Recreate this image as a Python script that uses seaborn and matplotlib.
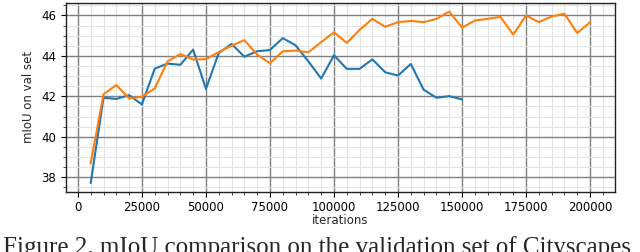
import numpy as np
import pandas as pd
import matplotlib.pyplot as plt
import seaborn as sns
from matplotlib.ticker import MultipleLocator

# validation mIoU, one point every 5000 iterations
iters_blue = list(range(5000, 150001, 5000))
miou_blue = [37.71, 41.93, 41.87, 42.06, 41.60, 43.37, 43.62, 43.56, 44.31, 42.37,
             44.14, 44.59, 43.96, 44.23, 44.29, 44.88, 44.52, 43.73, 42.88, 44.03,
             43.36, 43.36, 43.83, 43.19, 43.03, 43.60, 42.33, 41.93, 42.01, 41.85]

iters_orange = list(range(5000, 200001, 5000))
miou_orange = [38.69, 42.10, 42.56, 41.90, 41.98, 42.39, 43.73, 44.09, 43.82, 43.84,
               44.19, 44.50, 44.78, 44.06, 43.64, 44.23, 44.26, 44.18, 44.68, 45.17,
               44.64, 45.29, 45.83, 45.44, 45.67, 45.73, 45.67, 45.83, 46.19, 45.40,
               45.75, 45.83, 45.93, 45.05, 46.00, 45.67, 45.95, 46.08, 45.13, 45.67]

caption = "Figure 2. mIoU comparison on the validation set of Cityscapes"

sns.set_style("white")
fig = plt.figure(figsize=(6.4, 2.52), dpi=100)
ax = fig.add_axes([0.1027, 0.2393, 0.8583, 0.7487])

sns.lineplot(x=iters_blue, y=miou_blue, color="#1f77b4", linewidth=1.5, ax=ax)
sns.lineplot(x=iters_orange, y=miou_orange, color="#ff7f0e", linewidth=1.5, ax=ax)

ax.xaxis.set_major_locator(MultipleLocator(25000))
ax.xaxis.set_minor_locator(MultipleLocator(5000))
ax.yaxis.set_major_locator(MultipleLocator(2))
ax.yaxis.set_minor_locator(MultipleLocator(0.5))
ax.grid(which="major", color="#7f7f7f", linewidth=1.0)
ax.grid(which="minor", color="#e4e4e4", linewidth=0.8)
ax.set_axisbelow(True)
ax.tick_params(which="major", direction="out", length=3.5, width=0.8,
               labelsize=8.5, colors="black", bottom=True, left=True)
ax.tick_params(which="minor", direction="out", length=2, width=0.6,
               bottom=True, left=True)
for s in ax.spines.values():
    s.set_color("#222222")
    s.set_linewidth(1.0)

ax.set_xlabel("iterations", fontsize=8.5, labelpad=0)
ax.set_ylabel("mIoU on val set", fontsize=8.5, labelpad=4)

fig.text(0.004, 1 - 236 / 252, caption, family="Liberation Serif",
         fontsize=18, va="top", ha="left")

fig.savefig("out.png", dpi=100)
